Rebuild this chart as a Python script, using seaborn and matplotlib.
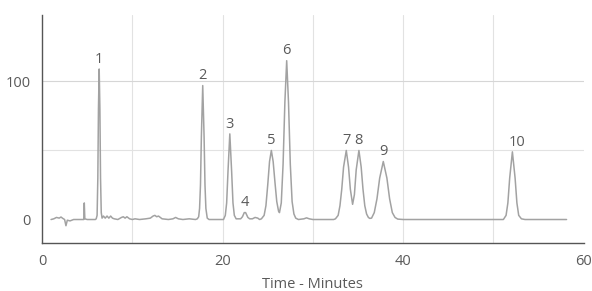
import matplotlib
matplotlib.use("Agg")
import matplotlib.pyplot as plt
import seaborn as sns
import pandas as pd

# detector trace (minutes, signal)
trace_time = [
    1.0, 1.3, 1.6, 1.9, 2.1, 2.3, 2.5, 2.65, 2.8, 3.1, 3.5, 4.0, 4.5, 4.62, 4.68, 4.74, 5.0, 5.5, 5.9,
    6.0, 6.1, 6.18, 6.25, 6.33, 6.41, 6.48, 6.56, 6.65,
    6.8, 7.0, 7.2, 7.4, 7.6, 7.8, 8.0, 8.4, 8.8, 9.0, 9.2, 9.4, 9.7, 10.0, 10.3, 10.8, 11.5, 12.0,
    12.3, 12.5, 12.7, 12.9, 13.3, 14.0, 14.5, 14.8, 15.1, 15.6, 16.3, 17.0,
    17.2, 17.35, 17.45, 17.55, 17.65, 17.8, 17.95, 18.05, 18.15, 18.3, 18.5, 19.0, 19.6, 20.1,
    20.3, 20.45, 20.6, 20.8, 21.0, 21.15, 21.3, 21.5,
    22.0, 22.2, 22.4, 22.55, 22.8, 23.0, 23.3, 23.6, 23.9, 24.1,
    24.3, 24.6, 24.8, 25.0, 25.2, 25.4, 25.6, 25.8, 26.0, 26.2, 26.3,
    26.5, 26.7, 26.9, 27.1, 27.3, 27.5, 27.7, 27.9, 28.1, 28.4,
    29.0, 29.3, 29.6, 30.0, 31.0, 32.3,
    32.5, 32.8, 33.0, 33.2, 33.4, 33.7, 33.95, 34.15, 34.4, 34.6, 34.8, 35.1, 35.35, 35.55,
    35.75, 35.95, 36.15, 36.3,
    36.5, 36.8, 37.1, 37.4, 37.8, 38.2, 38.5, 38.8, 39.1, 39.4, 40.0, 45.0, 50.0, 51.1,
    51.4, 51.6, 51.8, 52.1, 52.4, 52.6, 52.8, 53.1, 53.5, 56.0, 58.1,
]
trace_signal = [
    0.0, 0.5, 1.5, 1.0, 1.8, 0.8, 0.0, -4.5, -0.5, -1.0, 0.0, 0.0, 0.0, 0.0, 12.0, 0.5, 0.0, 0.0, 0.0,
    0.5, 3.0, 30.0, 80.0, 109.0, 80.0, 30.0, 5.0, 1.0,
    2.5, 1.0, 2.5, 1.0, 2.5, 1.0, 0.5, 0.0, 1.5, 2.0, 1.0, 2.0, 0.5, 0.0, 0.5, 0.0, 0.5, 1.0,
    2.5, 3.0, 2.0, 2.5, 0.5, 0.0, 0.5, 1.5, 0.5, 0.0, 0.5, 0.0,
    0.5, 2.0, 8.0, 25.0, 60.0, 97.0, 60.0, 25.0, 8.0, 1.0, 0.0, 0.0, 0.0, 0.0,
    3.0, 12.0, 35.0, 62.0, 35.0, 12.0, 3.0, 0.5,
    0.5, 2.0, 5.0, 5.0, 1.5, 0.5, 0.5, 1.5, 1.0, 0.0,
    0.5, 3.0, 10.0, 25.0, 42.0, 50.0, 42.0, 27.0, 13.0, 6.0, 5.0,
    12.0, 40.0, 85.0, 115.0, 85.0, 40.0, 13.0, 4.0, 1.0, 0.0,
    0.5, 1.2, 0.5, 0.0, 0.0, 0.0,
    0.5, 3.0, 10.0, 22.0, 38.0, 50.0, 38.0, 22.0, 11.0, 18.0, 36.0, 50.0, 38.0, 22.0,
    10.0, 4.0, 1.5, 0.8,
    1.0, 5.0, 15.0, 30.0, 42.0, 30.0, 15.0, 5.0, 1.5, 0.3, 0.0, 0.0, 0.0, 0.0,
    3.0, 12.0, 30.0, 49.0, 30.0, 12.0, 3.0, 0.5, 0.0, 0.0, 0.0,
]

# numbered peaks: apex time and height
peak_labels = ["1", "2", "3", "4", "5", "6", "7", "8", "9", "10"]
peak_times = [6.33, 17.8, 20.8, 22.5, 25.4, 27.1, 33.7, 35.1, 37.8, 52.1]
peak_heights = [109, 97, 62, 5, 50, 115, 50, 50, 42, 49]

x_ticks = [0, 20, 40, 60]
y_ticks = [0, 100]

sns.set_theme(style="white")
plt.rcParams["font.family"] = ["Open Sans", "DejaVu Sans"]

text_col = "#5a5a5a"
grid_col = "#e2e2e2"

fig = plt.figure(figsize=(5.92, 2.91), dpi=100)
ax = fig.add_axes([0.071, 0.165, 0.915, 0.783])

for gx in [10, 20, 30, 40, 50]:
    ax.axvline(gx, color=grid_col, lw=0.8, zorder=0)
for gy in [50, 100]:
    ax.axhline(gy, color=grid_col if gy == 50 else "#d6d6d6", lw=0.8, zorder=0)

df = pd.DataFrame({"time": trace_time, "signal": trace_signal})
sns.lineplot(data=df, x="time", y="signal", ax=ax, estimator=None, sort=False,
             color="#a2a2a2", lw=1.1, zorder=3)

for lab, t, h in zip(peak_labels, peak_times, peak_heights):
    dx = 3 if lab == "10" else 0
    ax.annotate(lab, (t, h), xytext=(dx, 4.5), textcoords="offset points",
                ha="center", va="baseline", fontsize=10.5, color=text_col)

ax.set_xlim(0, 60)
ax.set_ylim(-17, 148)
ax.set_xticks(x_ticks)
ax.set_yticks(y_ticks)
ax.set_xlabel("Time - Minutes", fontsize=10.5, color=text_col, labelpad=6)
ax.set_ylabel("")

sns.despine(ax=ax)
for side in ["left", "bottom"]:
    ax.spines[side].set_color("#555555")
    ax.spines[side].set_linewidth(1.0)
ax.tick_params(axis="both", which="major", length=4, width=0.8, color="#555555",
               labelsize=10.5, labelcolor=text_col, direction="out", pad=4)

fig.savefig("out.png", dpi=100)
